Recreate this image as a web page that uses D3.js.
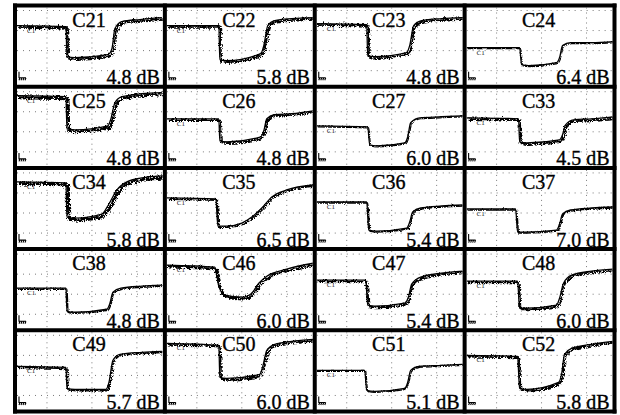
<!DOCTYPE html>
<html>
<head>
<meta charset="utf-8">
<script src="https://cdn.jsdelivr.net/npm/d3@7"></script>
<style>
  html, body { margin: 0; padding: 0; background: #fff; }
  svg { display: block; }
</style>
</head>
<body>
<svg id="chart" width="620" height="415"></svg>
<script>
// ---------------- data ----------------
const channels = ["C21","C22","C23","C24","C25","C26","C27","C33","C34","C35",
                  "C36","C37","C38","C46","C47","C48","C49","C50","C51","C52"];
const lossDb   = [4.8, 5.8, 4.8, 6.4, 4.8, 4.8, 6.0, 4.5, 5.8, 6.5,
                  5.4, 7.0, 4.8, 6.0, 5.4, 6.0, 5.7, 6.0, 5.1, 5.8];
// trace noise level (relative)
const noise    = [3, 3, 3, 1, 3.5, 2.5, 1, 3, 4, 2, 1.5, 1.5, 1.5, 3, 2.5, 2.5, 2, 3, 1, 2.5];
// time samples (µs) and amplitudes (div units) of each trace
const traceT = [
  [0,4.9,5.0,5.8,9.1,9.5,9.8,10.5,12.3,14.5],
  [0,5.2,5.3,6.0,9.4,9.7,10.1,10.8,12.5,14.7],
  [0,5.0,5.1,5.8,9.0,9.3,9.7,10.5,12.5,14.6],
  [0,5.3,5.5,6.2,9.0,9.3,9.6,10.4,12.5,14.7],
  [0,4.9,5.0,5.8,9.1,9.4,9.8,10.5,12.5,14.5],
  [0,5.2,5.3,6.0,9.4,9.7,10.0,10.8,12.5,14.7],
  [0,5.1,5.3,6.0,8.8,9.1,9.4,10.3,12.5,14.6],
  [0,5.2,5.3,6.0,9.3,9.6,9.9,10.7,12.5,14.7],
  [0,4.9,5.0,5.8,8.5,9.2,10.0,11.0,12.5,14.5],
  [0,4.9,5.1,6.0,7.5,8.5,9.5,10.5,12.0,14.7],
  [0,5.0,5.2,6.0,9.0,9.3,9.6,10.4,12.5,14.6],
  [0,4.9,5.1,5.8,9.0,9.3,9.6,10.4,12.5,14.7],
  [0,4.9,5.0,5.8,9.0,9.3,9.6,10.4,12.5,14.5],
  [0,4.8,5.2,5.8,7.5,8.5,9.2,10.0,12.0,14.7],
  [0,4.9,5.1,5.8,8.8,9.2,9.5,10.4,12.5,14.6],
  [0,5.1,5.3,6.0,9.0,9.3,9.7,10.5,12.5,14.7],
  [0,4.9,5.0,5.8,8.9,9.2,9.6,10.3,12.5,14.5],
  [0,5.2,5.3,6.0,9.3,9.6,10.0,10.8,12.5,14.7],
  [0,4.8,5.0,5.8,8.8,9.1,9.4,10.2,12.5,14.6],
  [0,5.1,5.3,6.0,9.2,9.5,9.8,10.5,12.5,14.7]
];
const traceV = [
  [2.5,2.4,-0.6,-0.7,-0.4,0.2,2.2,2.9,3.1,3.3],
  [2.5,2.5,-0.9,-1.0,-0.3,0.5,2.5,3.0,3.2,3.3],
  [2.7,2.6,-0.5,-0.6,-0.2,0.5,2.5,3.0,3.2,3.3],
  [0.3,0.3,-1.4,-1.5,-1.2,-0.7,0.5,0.8,0.8,0.9],
  [3.6,3.5,0.3,0.2,0.6,1.3,2.9,3.5,3.8,3.9],
  [1.3,1.3,-0.9,-1.0,-0.5,0.1,1.3,1.7,1.8,2.1],
  [0.6,0.5,-1.3,-1.4,-1.1,-0.5,0.9,1.4,1.5,1.6],
  [1.4,1.3,-1.0,-1.1,-0.8,-0.3,0.7,1.2,1.3,1.5],
  [3.1,3.0,-0.4,-0.5,-0.1,0.9,2.3,3.1,3.5,3.7],
  [1.5,1.4,-1.3,-1.3,-1.0,-0.4,0.5,1.6,2.3,2.8],
  [1.1,1.1,-1.7,-1.8,-1.5,-0.9,0.1,0.5,0.7,0.8],
  [0.4,0.4,-1.9,-1.9,-1.7,-1.1,-0.1,0.3,0.5,0.6],
  [0.6,0.6,-1.7,-1.8,-1.5,-0.9,0.2,0.6,0.8,0.9],
  [2.9,2.7,0.8,-0.1,-0.3,0.1,1.1,1.8,2.5,3.1],
  [1.4,1.4,-1.1,-1.2,-0.9,-0.2,1.0,1.7,2.1,2.3],
  [1.3,1.3,-1.4,-1.4,-1.1,-0.4,1.1,1.9,2.3,2.5],
  [0.9,0.8,-1.3,-1.4,-1.4,-0.7,1.5,2.1,2.3,2.4],
  [3.2,3.0,-0.2,-0.3,0.1,0.9,2.5,3.1,3.4,3.6],
  [0.5,0.5,-1.5,-1.6,-1.3,-0.7,0.5,0.9,1.0,1.1],
  [2.0,1.9,-1.3,-1.4,-0.7,0.1,2.1,2.7,3.1,3.4]
];
// graticule positions (in data units)
const gridT = [3.0, 7.5, 12.0];
const gridV = [4.0, 2.0, 0.0, -2.0];
const timeDomain = [0, 14.6];
const ampDomain  = [-3.4, 4.3];

// ---------------- layout ----------------
const nCols = 4, nRows = 5;
const svg = d3.select("#chart");
const gx = d3.scaleBand().domain(d3.range(nCols)).range([15, 614.5]);
const gy = d3.scaleBand().domain(d3.range(nRows)).range([5.5, 411.5]);
const bw = gx.bandwidth(), bh = gy.bandwidth();
const inset = 2;
const font = "'Liberation Serif','Times New Roman',serif";

const defs = svg.append("defs");
function jagFilter(id, scale, freq) {
  const f = defs.append("filter").attr("id", id)
    .attr("x", "-5%").attr("y", "-30%").attr("width", "110%").attr("height", "160%");
  f.append("feTurbulence").attr("type", "turbulence")
    .attr("baseFrequency", freq).attr("numOctaves", 2).attr("seed", 7).attr("result", "n");
  f.append("feDisplacementMap").attr("in", "SourceGraphic").attr("in2", "n")
    .attr("scale", scale).attr("xChannelSelector", "R").attr("yChannelSelector", "G");
}
const noiseLevels = [1, 1.5, 2, 2.5, 3, 3.5, 4];
noiseLevels.forEach((n, i) => jagFilter("jag" + i, 1.5 + n * 1.3, "1.1 0.9"));
const widthScale = d3.scaleLinear().domain([1, 4]).range([1.2, 3.2]);

channels.forEach((name, i) => {
  const c = i % nCols, r = Math.floor(i / nCols);
  const x0 = gx(c) + inset, x1 = gx(c) + bw - inset;
  const y0 = gy(r) + inset, y1 = gy(r) + bh - inset;
  const xs = d3.scaleLinear().domain(timeDomain).range([x0, x1]);
  const ys = d3.scaleLinear().domain(ampDomain).range([y1, y0]);

  defs.append("clipPath").attr("id", "clip" + i)
    .append("rect").attr("x", x0).attr("y", y0).attr("width", x1 - x0).attr("height", y1 - y0);

  const g = svg.append("g").attr("clip-path", `url(#clip${i})`);

  // graticule
  g.selectAll("line.gv").data(gridT).join("line")
    .attr("x1", d => xs(d)).attr("x2", d => xs(d)).attr("y1", y0).attr("y2", y1)
    .attr("stroke", "#7a7a7a").attr("stroke-width", 1).attr("stroke-dasharray", "1,4");
  g.selectAll("line.gh").data(gridV).join("line")
    .attr("y1", d => ys(d)).attr("y2", d => ys(d)).attr("x1", x0).attr("x2", x1)
    .attr("stroke", "#7a7a7a").attr("stroke-width", 1).attr("stroke-dasharray", "1,5");

  // trace
  const pts = traceT[i].map((t, k) => [t, traceV[i][k]]);
  const line = d3.line().x(d => xs(d[0])).y(d => ys(d[1])).curve(d3.curveMonotoneX);
  const nIdx = noiseLevels.indexOf(noise[i]);
  g.append("path").attr("d", line(pts))
    .attr("fill", "none").attr("stroke", "#000")
    .attr("stroke-width", widthScale(noise[i]))
    .attr("stroke-linejoin", "round")
    .attr("filter", `url(#jag${nIdx})`);
  g.append("path").attr("d", line(pts))
    .attr("fill", "none").attr("stroke", "#000").attr("stroke-width", 1.3);

  // "C1" channel marker
  g.append("text").attr("x", xs(1.0)).attr("y", ys(traceV[i][0]) + 7)
    .attr("font-family", font).attr("font-size", 7).attr("fill", "#222").text("C1");

  // ground marker
  const gxp = x0 + 2, gyp = y1 - 13;
  g.append("path")
    .attr("d", `M${gxp},${gyp} V${gyp + 6} H${gxp + 7} M${gxp + 1},${gyp + 6} l-1,2.5 M${gxp + 3},${gyp + 6} l-1,2.5 M${gxp + 5},${gyp + 6} l-1,2.5 M${gxp + 7},${gyp + 6} l-1,2.5`)
    .attr("fill", "none").attr("stroke", "#000").attr("stroke-width", 1.1);

  // title & loss label
  svg.append("text").attr("x", x0 + 72).attr("y", y0 + 19)
    .attr("text-anchor", "middle").attr("font-family", font).attr("font-size", 20)
    .attr("fill", "#000").attr("stroke", "#000").attr("stroke-width", 0.35).text(name);
  svg.append("text").attr("x", x1 - 3).attr("y", y1 - 0.5)
    .attr("text-anchor", "end").attr("font-family", font).attr("font-size", 20)
    .attr("fill", "#000").attr("stroke", "#000").attr("stroke-width", 0.35)
    .text(lossDb[i].toFixed(1) + " dB");
});

// panel borders
const vEdges = d3.range(nCols + 1).map(k => 15 + k * bw);
const hEdges = d3.range(nRows + 1).map(k => 5.5 + k * bh);
svg.selectAll("line.vb").data(vEdges).join("line")
  .attr("x1", d => d).attr("x2", d => d).attr("y1", 5.5).attr("y2", 411.5)
  .attr("stroke", "#000").attr("stroke-width", 4).attr("stroke-linecap", "square");
svg.selectAll("line.hb").data(hEdges).join("line")
  .attr("y1", d => d).attr("y2", d => d).attr("x1", 15).attr("x2", 614.5)
  .attr("stroke", "#000").attr("stroke-width", 4).attr("stroke-linecap", "square");
</script>
</body>
</html>
